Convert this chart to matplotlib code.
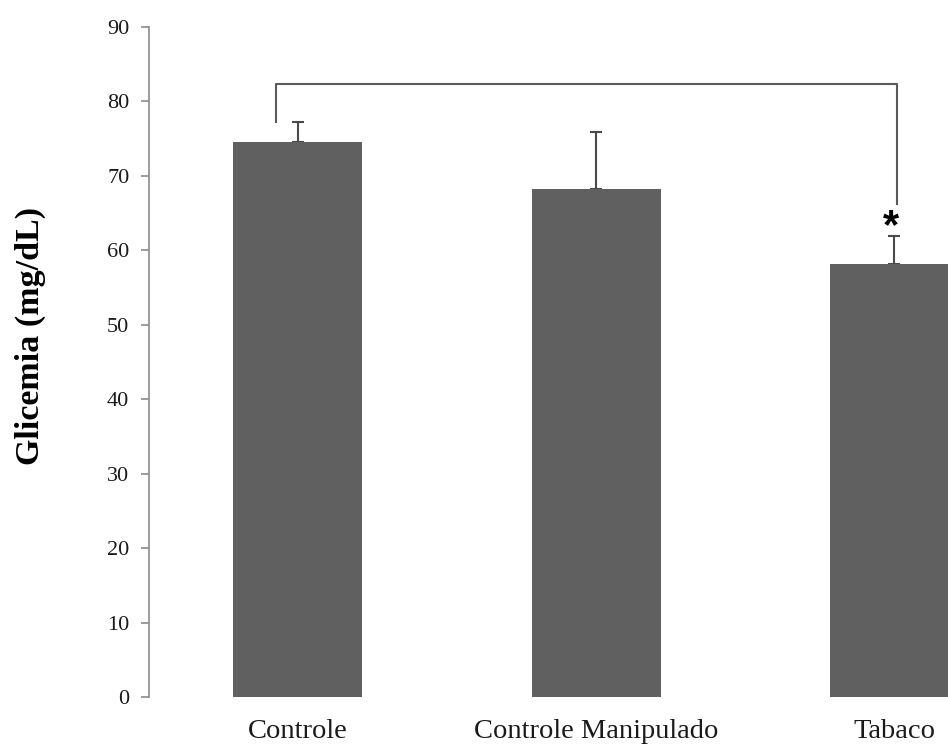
import matplotlib
matplotlib.use("Agg")
import matplotlib.pyplot as plt
import numpy as np

# values
groups = ["Controle", "Controle Manipulado", "Tabaco"]
means = [74.6, 68.3, 58.2]
errs = [2.6, 7.6, 3.7]

# significance bracket: Controle vs Tabaco
brk_top = 82.3
brk_left_end = 77.3
brk_right_end = 66.2

plt.rcParams['font.family'] = ['Liberation Serif', 'DejaVu Serif']

fig = plt.figure(figsize=(9.48, 7.45), dpi=100)
# axes runs past the right edge, as in the cropped original
ax = fig.add_axes([0.1569, 0.0644, 0.9439, 0.8994])

x = np.arange(len(groups))
ax.bar(x, means, width=0.432, color='#606060', zorder=2)
ax.errorbar(x, means, yerr=[np.zeros(len(errs)), errs], fmt='none',
            ecolor='#4a4a4a', elinewidth=1.5, capsize=4, capthick=1.5, zorder=1)

ax.set_xlim(-0.5, 2.5)
ax.set_ylim(0, 90)
ax.set_yticks(np.arange(0, 91, 10))
ax.set_xticks(x)
ax.set_xticklabels(groups, fontsize=20.5, color='#1a1a1a')

for s in ['top', 'right', 'bottom']:
    ax.spines[s].set_visible(False)
ax.spines['left'].set_color('#8a8a8a')
ax.spines['left'].set_linewidth(1.2)
ax.tick_params(axis='y', length=6, width=1.2, color='#8a8a8a', pad=8,
               labelsize=16, labelcolor='#1a1a1a')
ax.tick_params(axis='x', length=0, pad=16)

ax.set_ylabel('Glicemia (mg/dL)', fontsize=24.5, fontweight='bold', va='center')
ax.yaxis.set_label_coords(-0.1325, 0.539)

# bracket
xl, xr = -0.074, 2.007
ax.plot([xl, xl, xr, xr], [brk_left_end, brk_top, brk_top, brk_right_end],
        color='#5a5a5a', lw=1.5, clip_on=False)
ax.text(1.988, 63.1, '*', fontsize=30, fontweight='bold', family='Liberation Sans',
        ha='center', va='center')

fig.savefig('out.png', dpi=100)
